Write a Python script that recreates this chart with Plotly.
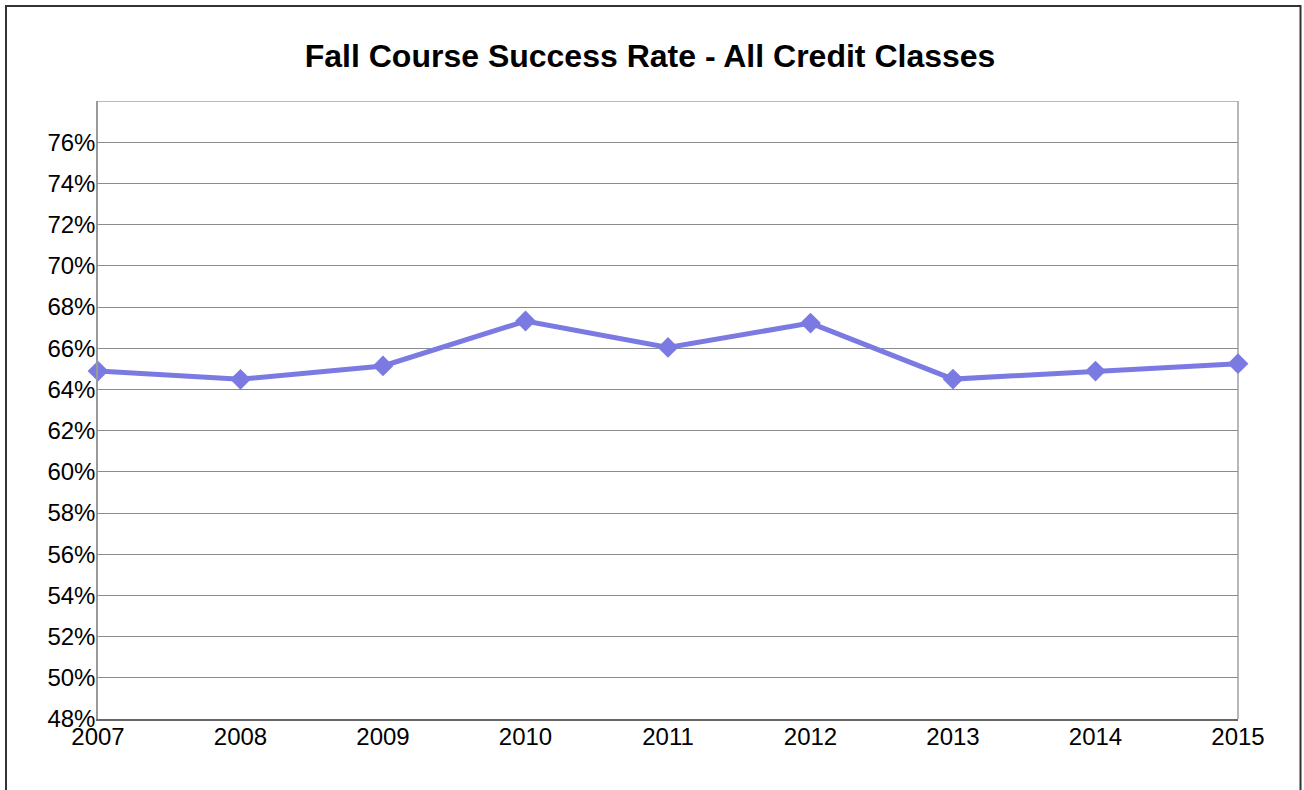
import plotly.graph_objects as go

years = [2007, 2008, 2009, 2010, 2011, 2012, 2013, 2014, 2015]
success_rate = [64.89, 64.49, 65.14, 67.32, 66.04, 67.22, 64.50, 64.89, 65.25]
y_ticks = list(range(48, 77, 2))
y_tick_labels = [f"{v}%" for v in y_ticks]

W, H = 1304, 790
L, R, T, B = 98, 66, 101, 71
pw, ph = W - L - R, H - T - B

def px_x(x):
    return (x - L) / pw

def px_y(y):
    return (H - B - y) / ph

fig = go.Figure()
fig.add_trace(go.Scatter(
    x=years, y=success_rate, mode="lines+markers",
    line=dict(color="#7a7ae2", width=5),
    marker=dict(symbol="diamond", size=16, color="#7a7ae2"),
    cliponaxis=False, showlegend=False,
))

shapes = [
    dict(type="line", xref="paper", yref="y", x0=0, x1=1, y0=78, y1=78,
         line=dict(color="#a0a0a0", width=1.5), layer="below"),
    dict(type="line", xref="paper", yref="paper", x0=1, x1=1, y0=0, y1=1,
         line=dict(color="#a0a0a0", width=1.5), layer="below"),
    dict(type="path", xref="paper", yref="paper",
         path=f"M {px_x(6)} {px_y(792)} L {px_x(6)} {px_y(6)} L {px_x(1300.5)} {px_y(6)} L {px_x(1300.5)} {px_y(792)}",
         line=dict(color="#333333", width=2)),
]

fig.update_layout(
    width=W, height=H,
    margin=dict(l=L, r=R, t=T, b=B, pad=0),
    paper_bgcolor="white", plot_bgcolor="white",
    font=dict(family="Liberation Sans, Arial, sans-serif", color="black"),
    title=dict(text="<b>Fall Course Success Rate - All Credit Classes</b>",
               x=0.4985, xanchor="center", y=1 - 56 / H, yanchor="middle",
               font=dict(size=32, color="black")),
    xaxis=dict(range=[2007, 2015], tickvals=years, ticktext=[str(y) for y in years],
               showgrid=False, zeroline=False, showline=True, linecolor="#666666",
               linewidth=2, ticks="", tickfont=dict(size=24), ticklabelstandoff=-5),
    yaxis=dict(range=[48, 78], tickvals=y_ticks, ticktext=y_tick_labels,
               showgrid=True, gridcolor="#8c8c8c", gridwidth=1, zeroline=False,
               showline=True, linecolor="#999999", linewidth=1.5, mirror=False,
               ticks="", tickfont=dict(size=24), ticklabelstandoff=-4),
    shapes=shapes,
)

fig.write_html("out.html", config={"displayModeBar": False},
               post_script="document.body.style.margin='0';document.body.style.overflow='hidden';")
